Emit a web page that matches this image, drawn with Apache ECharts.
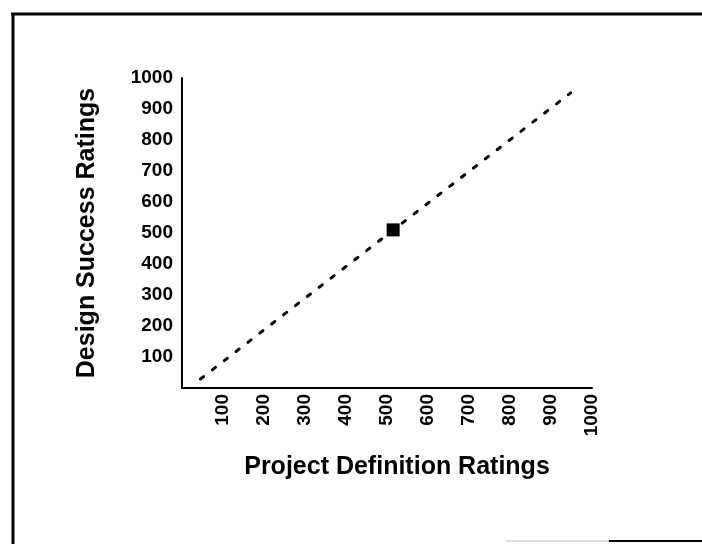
<!DOCTYPE html>
<html>
<head>
<meta charset="utf-8">
<script src="https://cdn.jsdelivr.net/npm/echarts@6/dist/echarts.min.js"></script>
<style>
  html, body { margin: 0; padding: 0; background: #fff; }
  #chart { width: 702px; height: 544px; }
</style>
</head>
<body>
<div id="chart"></div>
<script>
// tick values on both axes
const ticks = [100, 200, 300, 400, 500, 600, 700, 800, 900, 1000];
// dashed trend line (start and end)
const trendLine = [[45, 29], [948, 952]];
// the single rated project
const projectPoint = [[515, 510]];

const font = 'Liberation Sans, Arial, sans-serif';

var myChart = echarts.init(document.getElementById('chart'));
const option = {
  backgroundColor: '#fff',
  animation: false,
  grid: {
    left: 182,
    right: 110,
    top: 78,
    bottom: 156
  },
  xAxis: {
    type: 'value',
    min: 0,
    max: 1000,
    interval: 100,
    name: 'Project Definition Ratings',
    nameLocation: 'middle',
    nameGap: 67,
    nameTextStyle: { fontFamily: font, fontWeight: 'bold', fontSize: 25, color: '#000', padding: [0, 0, 0, 20] },
    axisLine: { show: true, lineStyle: { color: '#000', width: 2 } },
    axisTick: { show: false },
    splitLine: { show: false },
    axisLabel: {
      rotate: 90,
      margin: 6,
      showMinLabel: false,
      fontFamily: font,
      fontWeight: 'bold',
      fontSize: 19,
      color: '#000',
      formatter: v => ticks.includes(v) ? String(v) : ''
    }
  },
  yAxis: {
    type: 'value',
    min: 0,
    max: 1000,
    interval: 100,
    name: 'Design Success Ratings',
    nameLocation: 'middle',
    nameGap: 82,
    nameRotate: 90,
    nameTextStyle: { fontFamily: font, fontWeight: 'bold', fontSize: 25, color: '#000' },
    axisLine: { show: true, lineStyle: { color: '#000', width: 2 } },
    axisTick: { show: false },
    splitLine: { show: false },
    axisLabel: {
      margin: 9,
      showMinLabel: false,
      fontFamily: font,
      fontWeight: 'bold',
      fontSize: 19,
      color: '#000',
      formatter: v => ticks.includes(v) ? String(v) : ''
    }
  },
  series: [
    {
      type: 'line',
      data: trendLine,
      symbol: 'none',
      silent: true,
      z: 2,
      lineStyle: { color: '#000', width: 3, type: [4, 11], cap: 'round' }
    },
    {
      type: 'scatter',
      data: projectPoint,
      symbol: 'rect',
      symbolSize: 13,
      z: 5,
      itemStyle: { color: '#000', opacity: 1 }
    }
  ],
  graphic: [
    // frame round the slide
    { type: 'line', shape: { x1: 11, y1: 14, x2: 702, y2: 14 }, style: { stroke: '#000', lineWidth: 3 } },
    { type: 'line', shape: { x1: 13, y1: 13, x2: 13, y2: 544 }, style: { stroke: '#000', lineWidth: 3 } },
    { type: 'line', shape: { x1: 506, y1: 541, x2: 609, y2: 541 }, style: { stroke: '#bbb', lineWidth: 1 } },
    { type: 'line', shape: { x1: 609, y1: 541, x2: 702, y2: 541 }, style: { stroke: '#000', lineWidth: 2 } }
  ]
};
myChart.setOption(option);
</script>
</body>
</html>
